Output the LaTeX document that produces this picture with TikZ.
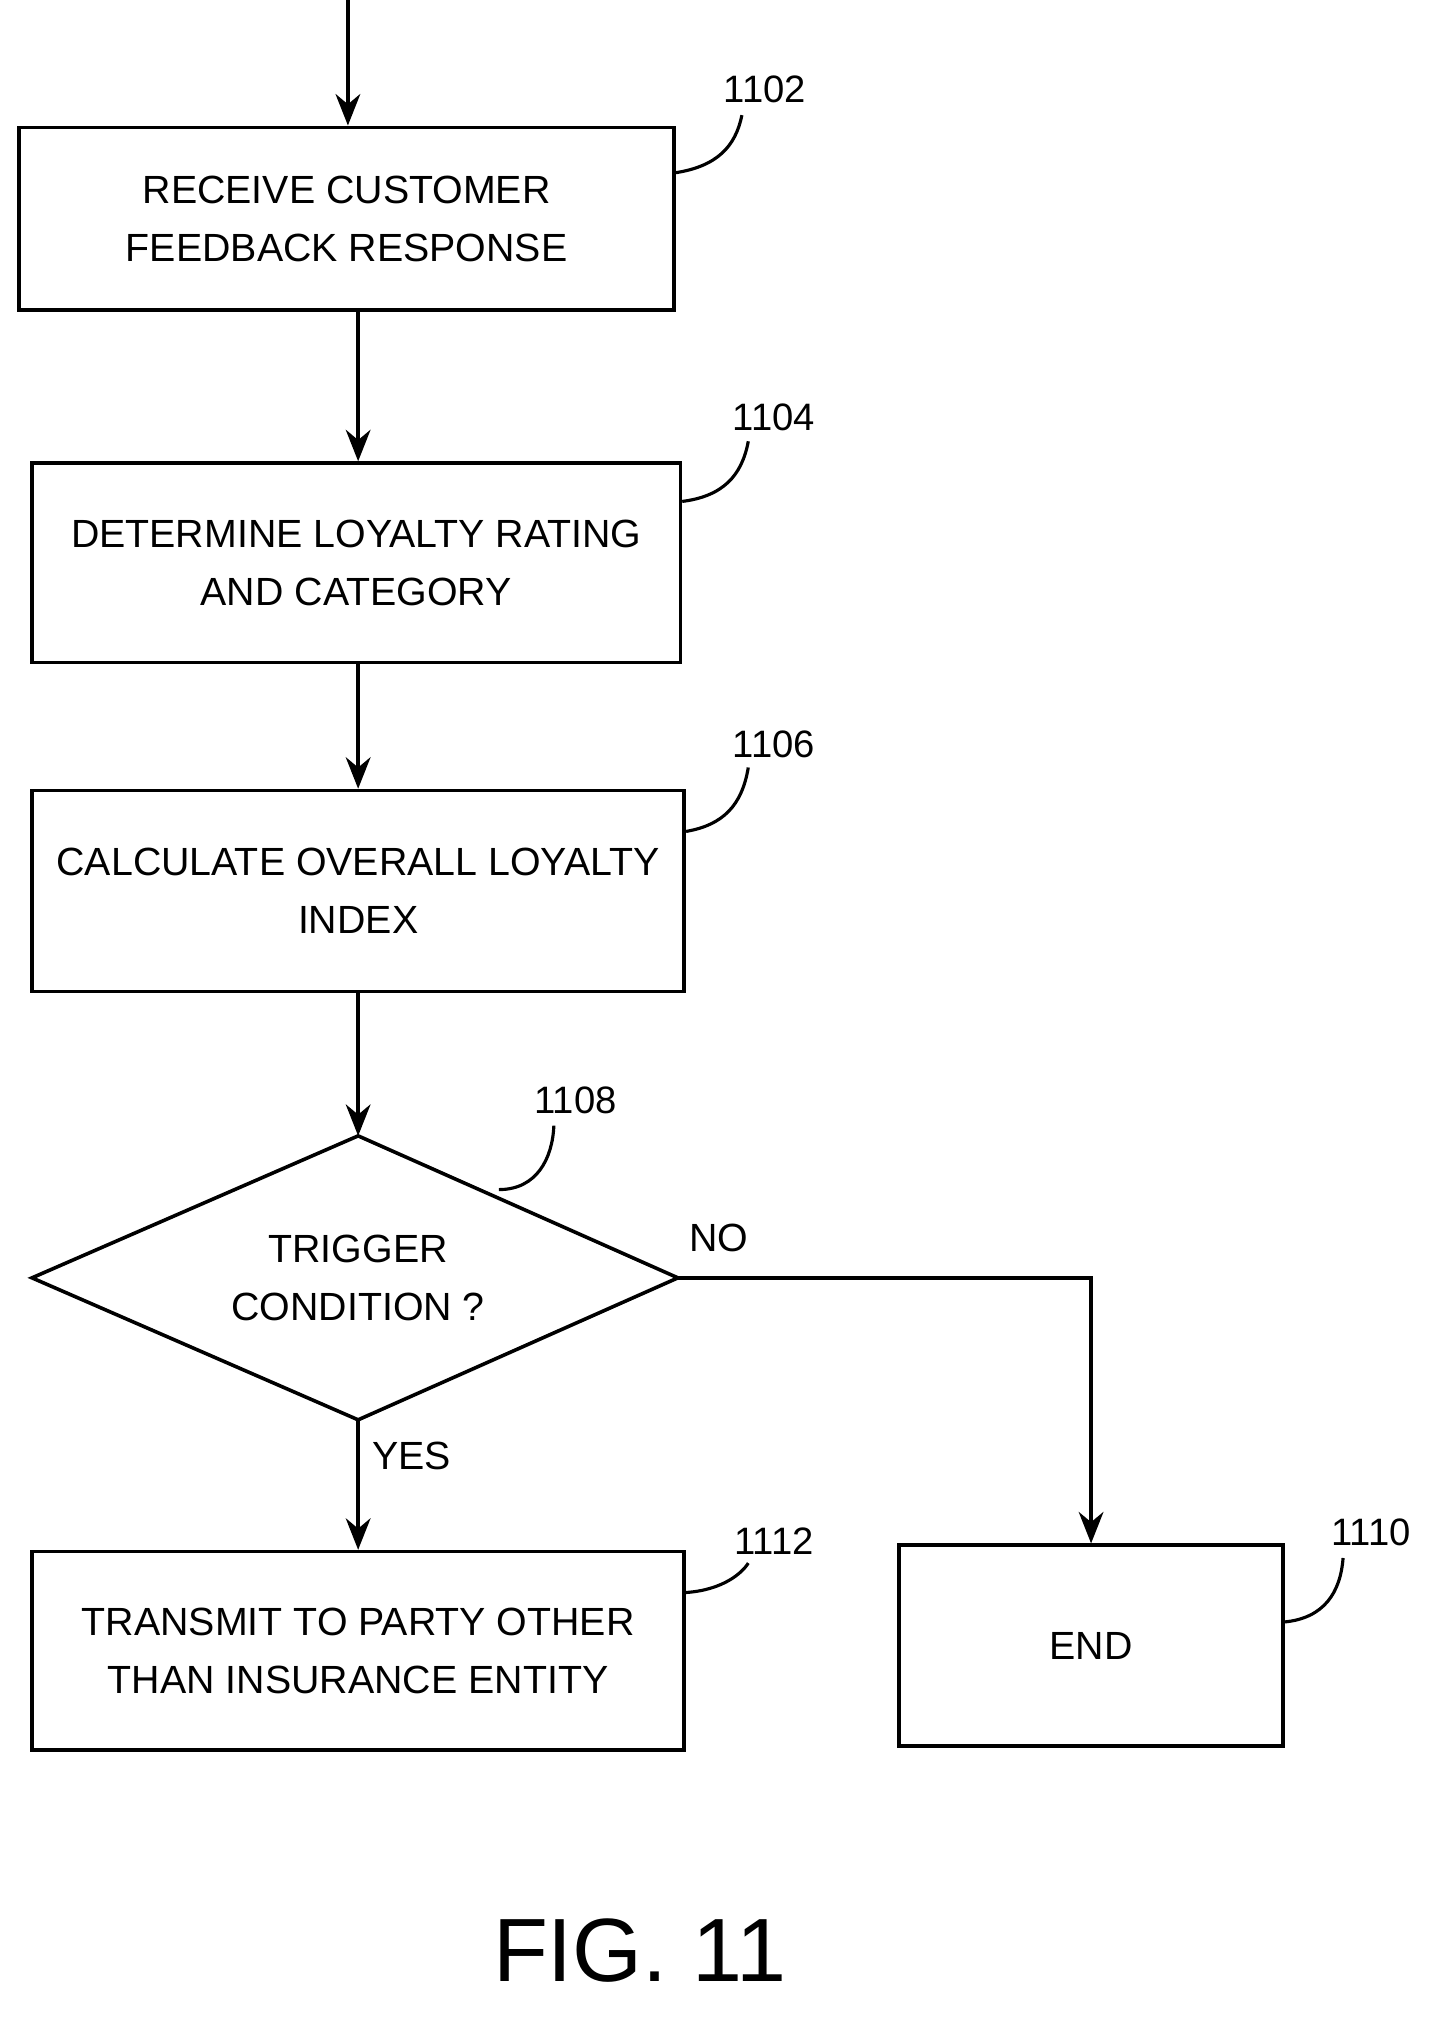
\documentclass[tikz,border=0pt]{standalone}
\usepackage{fontspec}
\setmainfont{Liberation Sans}
\usetikzlibrary{shapes.geometric,arrows.meta}
\begin{document}
\begin{tikzpicture}[x=0.02cm,y=-0.02cm,
  box/.style={draw,line width=1.6pt,inner sep=0pt,align=center,font=\fontsize{17.5}{26}\selectfont},
  lbl/.style={font=\fontsize{17}{20}\selectfont},
  arr/.style={line width=1.6pt,-{Stealth[length=14pt,width=11pt]}},
  lead/.style={line width=1.4pt}]
\useasboundingbox (0,0) rectangle (1130,1580);
\coordinate (top) at (272,0);
\node[box,minimum width=10.24cm,minimum height=2.86cm] (b1) at (271,171) {RECEIVE CUSTOMER\\FEEDBACK RESPONSE};
\node[box,minimum width=10.14cm,minimum height=3.12cm] (b2) at (278.5,440) {DETERMINE LOYALTY RATING\\AND CATEGORY};
\node[box,minimum width=10.2cm,minimum height=3.14cm] (b3) at (280,696.5) {CALCULATE OVERALL LOYALTY\\INDEX};
\coordinate (dn) at (280,888);
\coordinate (ds) at (280,1110);
\coordinate (dw) at (25,999);
\coordinate (de) at (530,999);
\draw[line width=1.6pt] (dn) -- (de) -- (ds) -- (dw) -- cycle;
\node[font=\fontsize{17.5}{26}\selectfont,align=center] (d) at (280,999) {TRIGGER\\CONDITION ?};
\node[box,minimum width=10.2cm,minimum height=3.1cm] (b5) at (280,1290.5) {TRANSMIT TO PARTY OTHER\\THAN INSURANCE ENTITY};
\node[box,minimum width=6cm,minimum height=3.14cm] (b6) at (853,1286.5) {END};
\draw[arr] (top) -- (b1.north -| top);
\draw[arr] (280,243) -- (b2.north -| 280,0);
\draw[arr] (280,518) -- (b3.north -| 280,0);
\draw[arr] (b3.south -| dn) -- (dn);
\draw[arr] (ds) -- (b5.north -| ds);
\draw[arr] (de) -| (b6.north);
\node[font=\fontsize{17.5}{22}\selectfont] at (562,968) {NO};
\node[font=\fontsize{17.5}{22}\selectfont] at (322,1138) {YES};
\node[lbl] (l1) at (598,70) {1102};
\node[lbl] (l2) at (605,326) {1104};
\node[lbl] (l3) at (605,582) {1106};
\node[lbl] (l4) at (450,860) {1108};
\node[lbl] (l5) at (605,1205) {1112};
\node[lbl] (l6) at (1072,1198) {1110};
\draw[lead] (b1.east |- 0,135) .. controls (560,130) and (575,115) .. (580,90);
\draw[lead] (b2.east |- 0,392) .. controls (565,388) and (580,372) .. (585,345);
\draw[lead] (b3.east |- 0,650) .. controls (565,645) and (580,630) .. (585,600);
\draw[lead] (390,930) .. controls (420,930) and (432,905) .. (433,880);
\draw[lead] (b5.east |- 0,1245) .. controls (565,1243) and (580,1230) .. (585,1222);
\draw[lead] (b6.east |- 0,1268) .. controls (1035,1265) and (1048,1245) .. (1050,1218);
\node[font=\fontsize{40}{44}\selectfont] at (500,1525) {FIG. 11};
\end{tikzpicture}
\end{document}
